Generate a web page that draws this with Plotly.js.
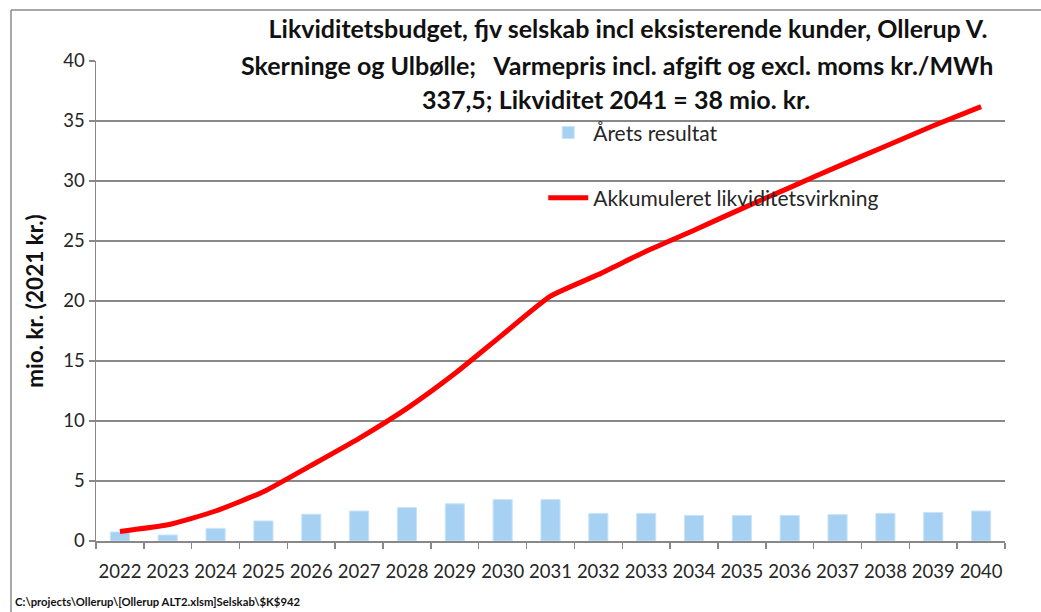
<!DOCTYPE html>
<html>
<head>
<meta charset="utf-8">
<script src="https://cdn.plot.ly/plotly-3.0.1.min.js"></script>
<style>
html,body{margin:0;padding:0;background:#fff;}
#chart{width:1041px;height:612px;}
</style>
</head>
<body>
<div id="chart"></div>
<script>
const years = ['2022','2023','2024','2025','2026','2027','2028','2029','2030','2031','2032','2033','2034','2035','2036','2037','2038','2039','2040'];
const aretsResultat = [0.75, 0.5, 1.05, 1.67, 2.23, 2.5, 2.78, 3.1, 3.45, 3.45, 2.3, 2.3, 2.13, 2.13, 2.13, 2.2, 2.3, 2.38, 2.5];
const akkumuleret = [0.8, 1.35, 2.5, 4.1, 6.3, 8.55, 11.05, 13.95, 17.2, 20.4, 22.2, 24.15, 25.9, 27.7, 29.45, 31.2, 32.9, 34.6, 36.2];
const titleLines = [
  'Likviditetsbudget, fjv selskab incl eksisterende kunder, Ollerup V.',
  'Skerninge og Ulbølle;   Varmepris incl. afgift og excl. moms kr./MWh',
  '337,5; Likviditet 2041 = 38 mio. kr.'
];
const yTitle = 'mio. kr. (2021 kr.)';
const footer = 'C:\\projects\\Ollerup\\[Ollerup ALT2.xlsm]Selskab\\$K$942';

const FONT = 'Lato, "Open Sans", sans-serif';
const GRID = '#888888';
const TSIZE = 25;

const traces = [
  {
    type: 'bar', x: years, y: aretsResultat, name: 'Årets resultat',
    marker: {color: '#a7d1f3', line: {color: '#c9e3f8', width: 1}},
    legendgroup: 'a'
  },
  {
    type: 'scatter', mode: 'lines', x: years, y: akkumuleret,
    name: 'Akkumuleret likviditetsvirkning',
    line: {color: '#ff0000', width: 5, shape: 'spline', smoothing: 0.5},
    legendgroup: 'b'
  }
];

const layout = {
  width: 1041, height: 612,
  margin: {l: 96, r: 36, t: 61, b: 71},
  paper_bgcolor: '#ffffff', plot_bgcolor: '#ffffff',
  font: {family: FONT, color: '#262626', size: 18},
  bargap: 0.6,
  showlegend: true,
  title: {
    text: '<b>' + titleLines[0] + '</b>',
    font: {family: FONT, size: TSIZE, color: '#111'},
    x: (628-96)/909, xref: 'paper', xanchor: 'center',
    y: 1 - 29/612, yref: 'container', yanchor: 'middle'
  },
  legend: {
    x: 0.492, y: 0.893, xanchor: 'left', yanchor: 'top',
    bgcolor: 'rgba(0,0,0,0)', borderwidth: 0,
    traceorder: 'grouped', tracegroupgap: 35,
    font: {family: FONT, size: 21, color: '#262626'},
    itemwidth: 40
  },
  xaxis: {
    type: 'category', tickson: 'boundaries', tickangle: 0,
    ticks: 'outside', ticklen: 6, tickcolor: GRID, tickwidth: 1.5,
    showline: true, linecolor: GRID, linewidth: 1.5,
    showgrid: false, ticklabelstandoff: 13,
    tickfont: {family: FONT, size: 18.5, color: '#262626'}
  },
  yaxis: {
    range: [0, 40], dtick: 5, tick0: 0,
    ticks: 'outside', ticklen: 6, tickcolor: GRID, tickwidth: 1.5,
    showline: true, linecolor: GRID, linewidth: 1.5,
    showgrid: true, gridcolor: GRID, gridwidth: 1.5,
    zeroline: false,
    tickfont: {family: FONT, size: 18.5, color: '#262626'},
    title: {text: '<b>' + yTitle + '</b>', font: {family: FONT, size: 22.5, color: '#111'}, standoff: 13}
  },
  annotations: [
    {text: '<b>' + titleLines[1] + '</b>', xref: 'paper', yref: 'paper',
     x: (617-96)/909, y: (541-65)/480, xanchor: 'center', yanchor: 'middle', showarrow: false,
     font: {family: FONT, size: TSIZE, color: '#111'}},
    {text: '<b>' + titleLines[2] + '</b>', xref: 'paper', yref: 'paper',
     x: (616-96)/909, y: (541-99)/480, xanchor: 'center', yanchor: 'middle', showarrow: false,
     font: {family: FONT, size: TSIZE, color: '#111'}},
    {text: '<b>' + footer + '</b>', xref: 'paper', yref: 'paper',
     x: (13-96)/909, y: (541-601)/480, xanchor: 'left', yanchor: 'middle', showarrow: false,
     font: {family: FONT, size: 11.3, color: '#111'}}
  ],
  shapes: [
    {type: 'line', xref: 'paper', yref: 'paper', x0: (11-96)/909, x1: (11-96)/909,
     y0: (541-10)/480, y1: -0.3, line: {color: '#8c8c8c', width: 1.5}, layer: 'above'},
    {type: 'line', xref: 'paper', yref: 'paper', x0: (11-96)/909, x1: 1.1,
     y0: (541-10)/480, y1: (541-10)/480, line: {color: '#8c8c8c', width: 1.5}, layer: 'above'}
  ]
};

Plotly.newPlot('chart', traces, layout, {displayModeBar: false, staticPlot: true});
</script>
</body>
</html>
